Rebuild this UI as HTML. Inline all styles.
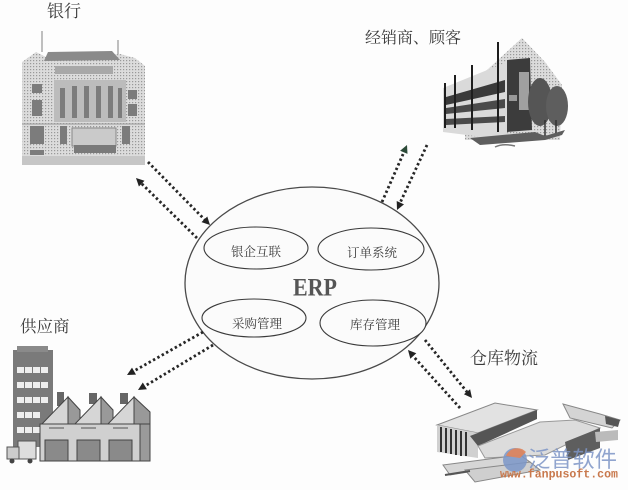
<!DOCTYPE html>
<html><head><meta charset="utf-8"><style>
html,body{margin:0;padding:0;background:#fdfdfd;}
svg{display:block;}
.lbl{font-family:"Liberation Serif","Noto Serif CJK SC","Noto Sans CJK SC",serif;fill:#3a3a3a;}
.in{font-family:"Liberation Serif","Noto Serif CJK SC","Noto Sans CJK SC",serif;fill:#3a3a3a;font-size:12.5px;text-anchor:middle;}
.dot{stroke:#262626;stroke-width:2.8;stroke-dasharray:2.4 2.6;fill:none;}
</style></head><body>
<svg width="628" height="490" viewBox="0 0 628 490" xmlns="http://www.w3.org/2000/svg">
<defs>
<pattern id="ht" width="3" height="3" patternUnits="userSpaceOnUse"><rect width="3" height="3" fill="#dcdcdc"/><rect width="1.2" height="1.2" fill="#999"/></pattern>
</defs>
<rect width="628" height="490" fill="#fdfdfd"/>

<!-- Bank -->
<g>
<line x1="42" y1="31" x2="42" y2="52" stroke="#aaa" stroke-width="1.5"/>
<line x1="118" y1="40" x2="118" y2="56" stroke="#aaa" stroke-width="1.5"/>
<polygon points="22,165 22,62 36,52 48,58 120,54 135,58 145,66 145,165" fill="url(#ht)"/>
<polygon points="48,52 112,51 120,60 44,61" fill="#8a8a8a"/>
<rect x="55" y="66" width="58" height="8" fill="#a8a8a8"/>
<rect x="54" y="80" width="72" height="42" fill="#bcbcbc"/>
<g fill="#7c7c7c">
<rect x="60" y="88" width="5" height="30"/><rect x="72" y="86" width="5" height="32"/><rect x="84" y="86" width="5" height="32"/><rect x="96" y="86" width="5" height="32"/><rect x="108" y="86" width="5" height="32"/><rect x="118" y="88" width="4" height="30"/>
<rect x="32" y="84" width="10" height="9"/><rect x="32" y="100" width="10" height="16"/>
<rect x="128" y="90" width="9" height="9"/><rect x="128" y="104" width="9" height="12"/>
<rect x="30" y="126" width="14" height="18"/><rect x="30" y="150" width="14" height="5"/>
<rect x="60" y="126" width="7" height="18"/><rect x="122" y="126" width="8" height="18"/>
</g>
<rect x="72" y="128" width="44" height="18" fill="#cacaca" stroke="#888" stroke-width="1"/>
<rect x="74" y="145" width="42" height="8" fill="#7a7a7a"/>
<rect x="22" y="156" width="123" height="9" fill="#c6c6c6"/>
<line x1="22" y1="124" x2="145" y2="124" stroke="#999" stroke-width="1"/>
</g>

<!-- Distributor building -->
<g>
<polygon points="465,90 522,38 545,62 562,85 560,140 465,140" fill="url(#ht)"/>
<polygon points="443,88 507,62 507,140 443,132" fill="#dadada"/>
<polygon points="446,97 505,80 505,92 446,105" fill="#3a3a3a"/>
<polygon points="446,108 505,99 505,108 446,114" fill="#4a4a4a"/>
<polygon points="446,119 505,116 505,122 446,125" fill="#4a4a4a"/>
<polygon points="507,60 530,58 532,130 507,132" fill="#3c3c3c"/>
<rect x="519" y="72" width="10" height="38" fill="#a0a0a0"/>
<rect x="509" y="95" width="8" height="6" fill="#999"/>
<ellipse cx="540" cy="102" rx="12" ry="24" fill="#555"/>
<ellipse cx="557" cy="106" rx="11" ry="20" fill="#5e5e5e"/>
<line x1="545" y1="120" x2="545" y2="136" stroke="#333" stroke-width="1.5"/>
<line x1="556" y1="120" x2="556" y2="134" stroke="#333" stroke-width="1.5"/>
<g stroke="#1e1e1e" stroke-width="2">
<line x1="445" y1="83" x2="445" y2="128"/><line x1="455" y1="75" x2="455" y2="128"/>
<line x1="472" y1="65" x2="472" y2="130"/><line x1="498" y1="42" x2="498" y2="132"/>
</g>
<polygon points="470,138 535,132 545,136 565,130 562,135 545,140 480,145" fill="#5e5e5e"/>
<path d="M495,147 q8,-4 20,-1" stroke="#777" stroke-width="1.5" fill="none"/>
</g>

<!-- Supplier factory -->
<g>
<rect x="13" y="350" width="40" height="97" fill="#7a7a7a"/>
<rect x="17" y="346" width="31" height="6" fill="#8a8a8a"/>
<g fill="#eee">
<rect x="17" y="367" width="7" height="6"/><rect x="25" y="367" width="7" height="6"/><rect x="33" y="367" width="7" height="6"/><rect x="41" y="367" width="7" height="6"/>
<rect x="17" y="382" width="7" height="6"/><rect x="25" y="382" width="7" height="6"/><rect x="33" y="382" width="7" height="6"/><rect x="41" y="382" width="7" height="6"/>
<rect x="17" y="397" width="7" height="6"/><rect x="25" y="397" width="7" height="6"/><rect x="33" y="397" width="7" height="6"/><rect x="41" y="397" width="7" height="6"/>
<rect x="17" y="412" width="7" height="6"/><rect x="25" y="412" width="7" height="6"/><rect x="33" y="412" width="7" height="6"/>
<rect x="17" y="427" width="7" height="6"/><rect x="25" y="427" width="7" height="6"/><rect x="33" y="427" width="7" height="6"/>
</g>
<rect x="57" y="392" width="7" height="14" fill="#666"/>
<rect x="89" y="393" width="8" height="11" fill="#666"/>
<rect x="120" y="393" width="8" height="11" fill="#666"/>
<g stroke="#444" stroke-width="1">
<polygon points="40,426 68,397 68,426" fill="#d6d6d6"/>
<polygon points="68,397 80,410 80,426 68,426" fill="#999"/>
<polygon points="73,426 101,397 101,426" fill="#d6d6d6"/>
<polygon points="101,397 113,410 113,426 101,426" fill="#999"/>
<polygon points="106,426 134,397 134,426" fill="#d6d6d6"/>
<polygon points="134,397 150,412 150,426 134,426" fill="#999"/>
<rect x="40" y="424" width="110" height="37" fill="#d0d0d0"/>
<rect x="45" y="440" width="23" height="21" fill="#8a8a8a"/>
<rect x="77" y="440" width="23" height="21" fill="#8a8a8a"/>
<rect x="109" y="440" width="23" height="21" fill="#8a8a8a"/>
<rect x="140" y="424" width="10" height="37" fill="#9a9a9a"/>
</g>
<g stroke="#555" stroke-width="1">
<line x1="49" y1="428" x2="64" y2="428"/><line x1="81" y1="428" x2="96" y2="428"/><line x1="113" y1="428" x2="128" y2="428"/>
</g>
<rect x="18" y="441" width="18" height="18" fill="#ddd" stroke="#555" stroke-width="1"/>
<rect x="7" y="447" width="12" height="12" fill="#ccc" stroke="#555" stroke-width="1"/>
<circle cx="12" cy="461" r="2.5" fill="#444"/><circle cx="30" cy="461" r="2.5" fill="#444"/>
</g>

<!-- Warehouse -->
<g>
<polygon points="437,425 495,403 537,410 478,433" fill="#e2e2e2" stroke="#888" stroke-width="1"/>
<polygon points="437,425 478,433 478,458 437,452" fill="#d0d0d0"/>
<g stroke="#333" stroke-width="2">
<line x1="441" y1="427" x2="441" y2="452"/><line x1="446" y1="428" x2="446" y2="453"/><line x1="451" y1="429" x2="451" y2="454"/><line x1="456" y1="430" x2="456" y2="455"/><line x1="461" y1="431" x2="461" y2="456"/><line x1="466" y1="432" x2="466" y2="456"/>
</g>
<polygon points="470,436 537,410 537,419 478,446" fill="#555"/>
<polygon points="478,446 540,422 575,420 600,428 545,455 485,458" fill="#dcdcdc" stroke="#999" stroke-width="1"/>
<polygon points="565,442 600,428 600,448 568,460" fill="#5e5e5e"/>
<polygon points="563,404 600,414 620,420 612,428 570,418" fill="#d4d4d4" stroke="#888" stroke-width="1"/>
<polygon points="605,416 620,420 618,427 606,424" fill="#555"/>
<polygon points="595,432 618,430 618,440 596,442" fill="#bbb"/>
<polygon points="443,465 520,455 530,462 450,475" fill="#d6d6d6" stroke="#888" stroke-width="1"/>
<polygon points="465,470 530,462 540,470 475,482" fill="#cfcfcf" stroke="#888" stroke-width="1"/>
<line x1="445" y1="475" x2="470" y2="471" stroke="#555" stroke-width="2"/>
</g>

<!-- Watermark -->
<g>
<circle cx="515" cy="460" r="12" fill="#7b96c8" opacity="0.85"/>
<path d="M506,456 a12,12 0 0 1 20,-4 l-6,6 z" fill="#e0845a" opacity="0.9"/>
<text x="528" y="467" font-family="'Noto Sans CJK SC','WenQuanYi Zen Hei',sans-serif" font-size="22" fill="#7d95c6" opacity="0.85" textLength="89" lengthAdjust="spacingAndGlyphs">泛普软件</text>
<text x="500" y="477.5" font-family="'Liberation Mono',monospace" font-size="11.5" font-weight="bold" fill="#c8784c" textLength="118" lengthAdjust="spacingAndGlyphs">www.fanpusoft.com</text>
</g>

<!-- Labels -->
<text class="lbl" x="47" y="17" font-size="17">银行</text>
<text class="lbl" x="365" y="43" font-size="16">经销商、顾客</text>
<text class="lbl" x="20" y="332" font-size="16.5">供应商</text>
<text class="lbl" x="470" y="364" font-size="17">仓库物流</text>

<!-- ERP ellipse -->
<ellipse cx="312" cy="283" rx="127" ry="96" fill="#fbfbfb" stroke="#4a4a4a" stroke-width="1.3"/>
<ellipse cx="256" cy="248" rx="52" ry="21" fill="#fbfbfb" stroke="#3a3a3a" stroke-width="1.1"/>
<ellipse cx="371" cy="249" rx="53" ry="21" fill="#fbfbfb" stroke="#3a3a3a" stroke-width="1.1"/>
<ellipse cx="254" cy="318" rx="52" ry="19" fill="#fbfbfb" stroke="#3a3a3a" stroke-width="1.1"/>
<ellipse cx="373" cy="323" rx="53" ry="23" fill="#fbfbfb" stroke="#3a3a3a" stroke-width="1.1"/>
<text class="in" x="256" y="256">银企互联</text>
<text class="in" x="372" y="257">订单系统</text>
<text class="in" x="257" y="328">采购管理</text>
<text class="in" x="375" y="329">库存管理</text>
<text x="293" y="295.5" font-family="'Liberation Serif',serif" font-weight="bold" font-size="25" fill="#555" textLength="44" lengthAdjust="spacingAndGlyphs">ERP</text>

<!-- Connectors -->
<g class="dot">
<line x1="148" y1="162" x2="205" y2="220"/>
<line x1="197" y1="238" x2="141" y2="183"/>
<line x1="382" y1="202" x2="404" y2="152"/>
<line x1="427" y1="145" x2="400" y2="203"/>
<line x1="425" y1="340" x2="467" y2="392"/>
<line x1="460" y1="408" x2="413" y2="356"/>
<line x1="203" y1="332" x2="134" y2="371"/>
<line x1="213" y1="345" x2="145" y2="386"/>
</g>
<g fill="#222">
<polygon points="210,225 201.5,222.1 207.3,216.5"/>
<polygon points="136,178 144.5,180.75 138.9,186.45"/>
<polygon points="407,145 407.5,153.9 400.1,150.7" fill="#2c4a38"/>
<polygon points="397,210 404,204.4 396.7,201"/>
<polygon points="472,398 463.9,394.3 470.1,389.3"/>
<polygon points="408,350 416.3,353.3 410.3,358.7"/>
<polygon points="127,375 132,367.6 136,374.6"/>
<polygon points="138,390 142.8,382.5 146.9,389.3"/>
</g>
</svg>
</body></html>
